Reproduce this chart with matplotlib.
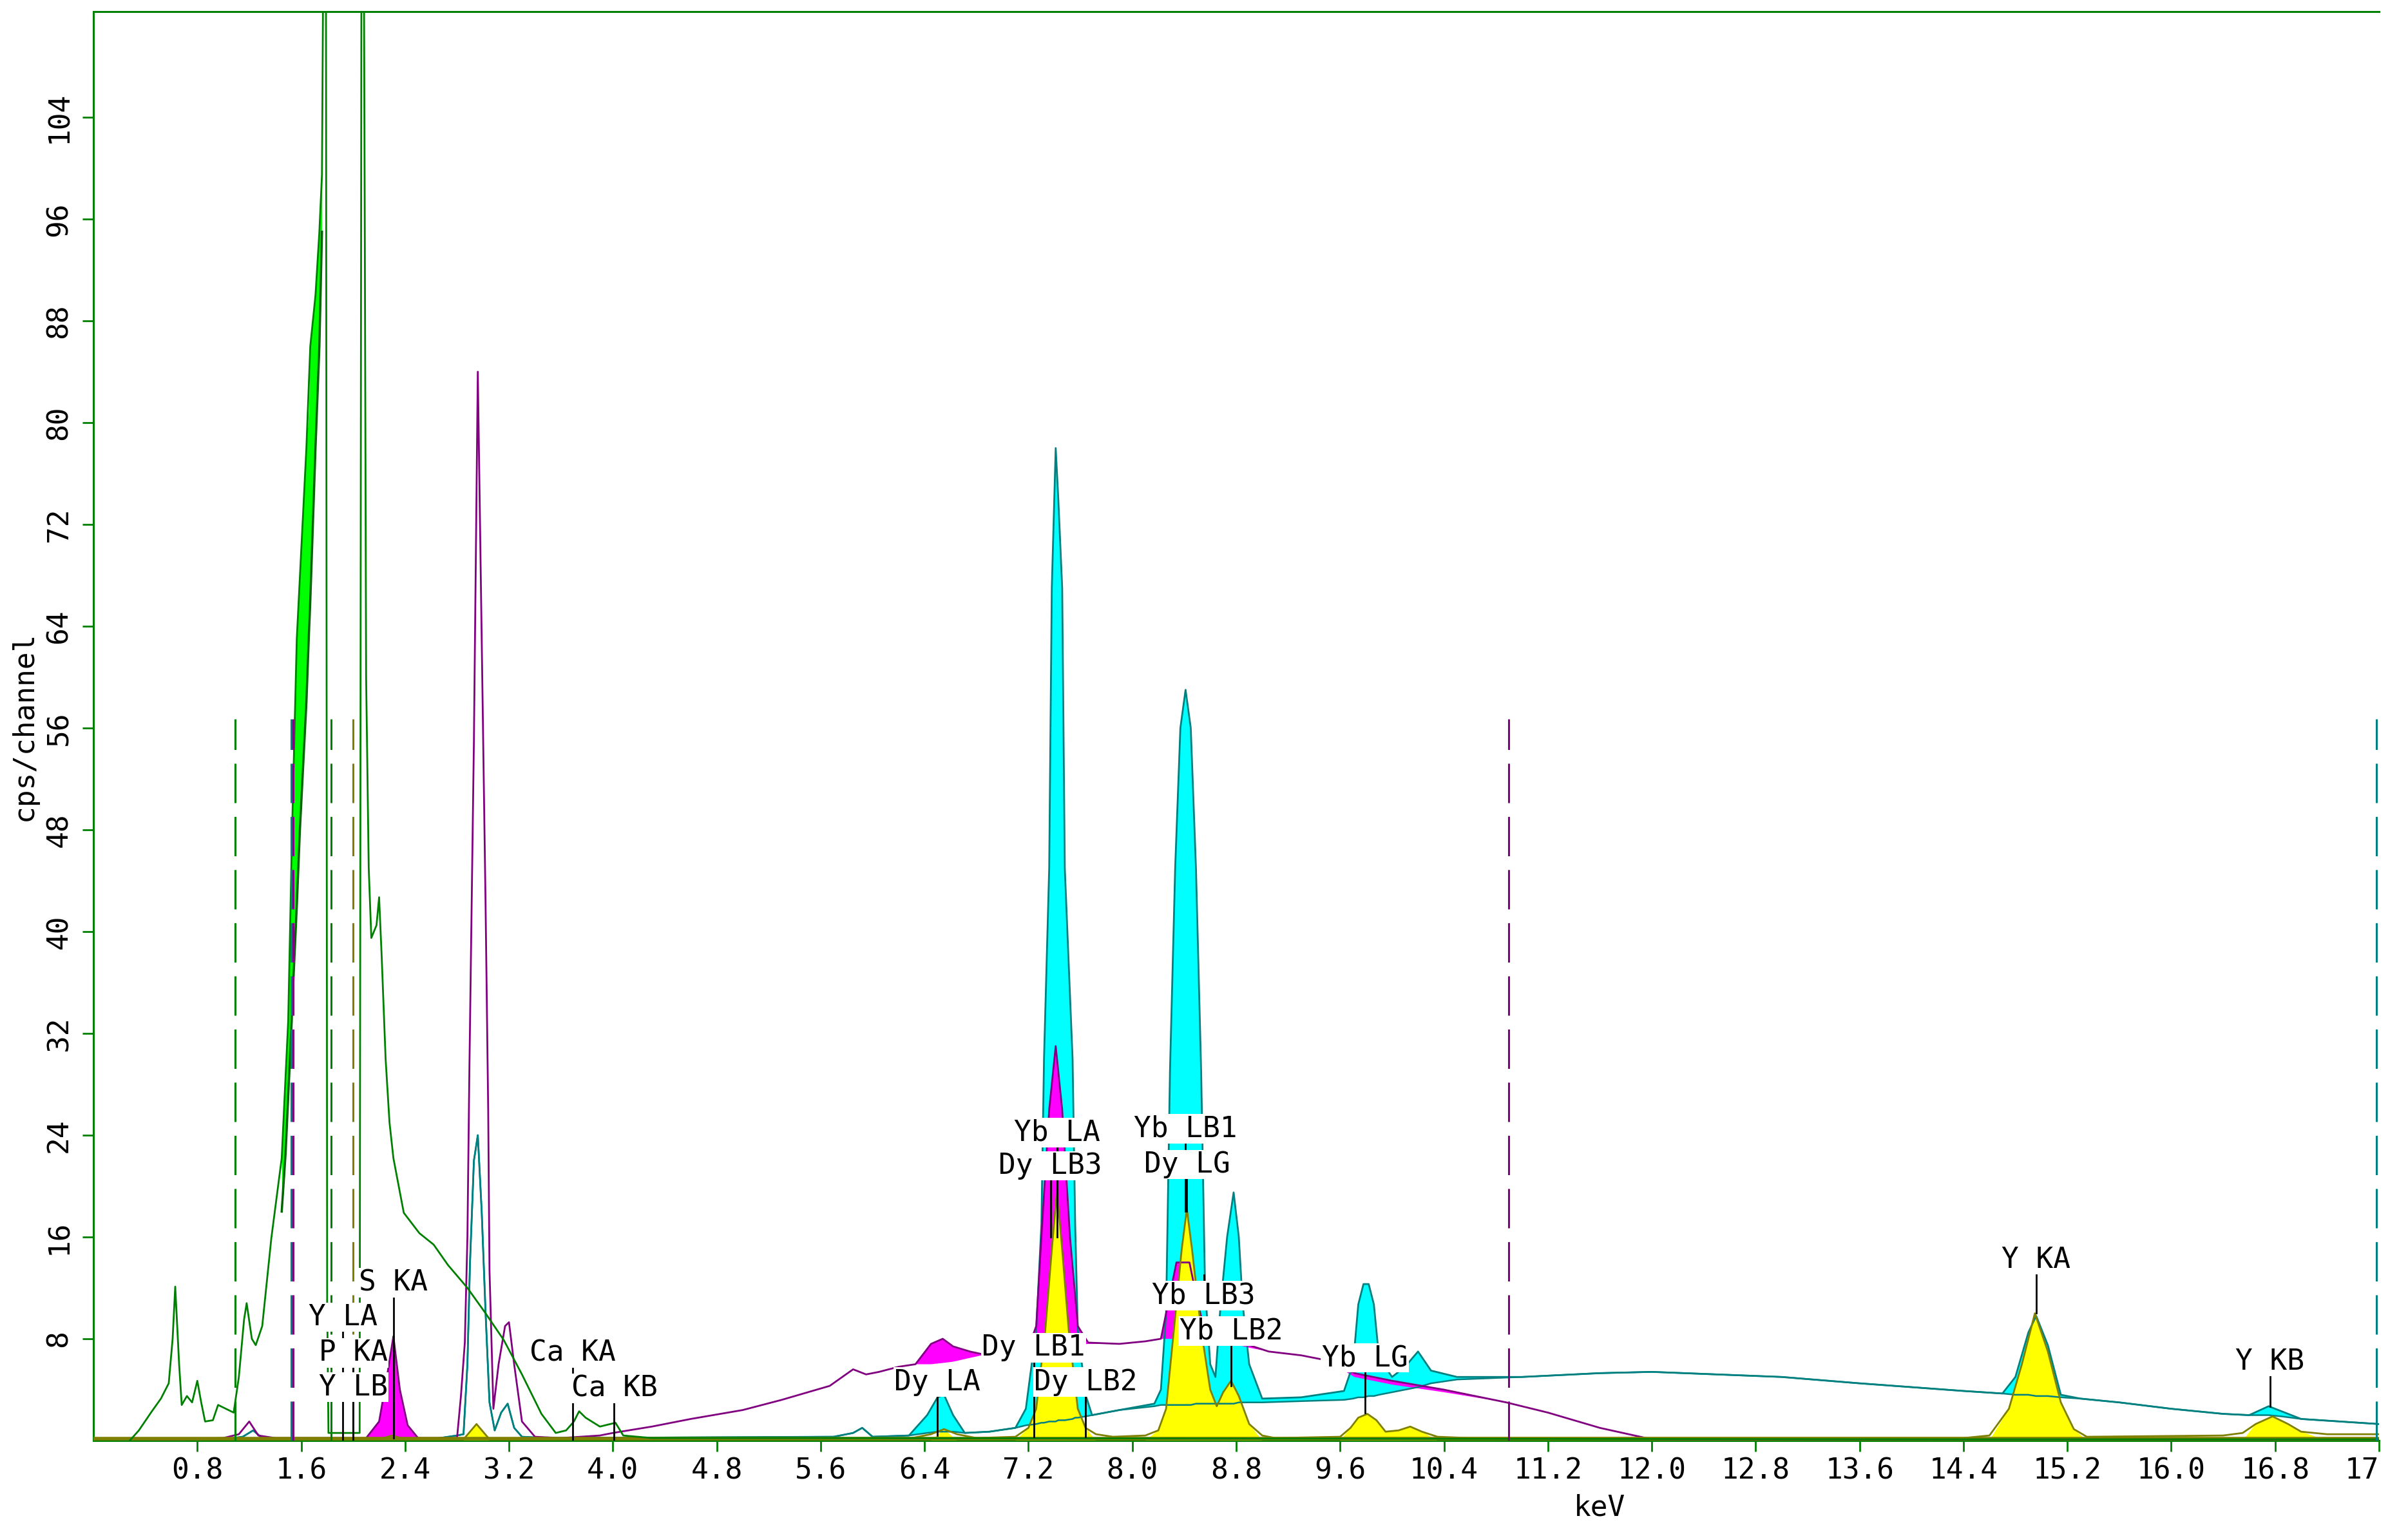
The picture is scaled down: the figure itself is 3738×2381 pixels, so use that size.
import matplotlib.pyplot as plt

# --- teal spectrum: energy (keV), counts (cps/channel), fitted background
teal_kev = [0.2, 1.0, 1.15, 1.23, 1.3, 1.5, 2.6, 2.8,
            2.85, 2.88, 2.9, 2.93, 2.96, 2.99, 3.02, 3.05, 3.09, 3.14, 3.19, 3.24, 3.3,
            3.5, 5.7, 5.85, 5.92, 6.0, 6.28, 6.42, 6.5, 6.55, 6.62, 6.71, 6.9,
            7.1, 7.18, 7.26, 7.30, 7.32, 7.36, 7.38, 7.41, 7.43, 7.46, 7.48, 7.54, 7.56, 7.58, 7.64, 7.69, 7.9,
            8.17, 8.22, 8.26, 8.29, 8.33, 8.37, 8.41, 8.45, 8.49, 8.53, 8.56, 8.6, 8.64,
            8.68, 8.73, 8.78, 8.82, 8.85, 8.9, 9.0, 9.3, 9.63,
            9.7, 9.74, 9.78, 9.82, 9.86, 9.9, 10.0, 10.1, 10.2, 10.3, 10.5,
            11.0, 11.6, 12.0, 12.5, 13.0, 13.6, 14.0, 14.4, 14.7,
            14.8, 14.9, 14.96, 15.05, 15.15, 15.3, 15.6, 16.0, 16.4, 16.6, 16.75, 16.85, 17.0, 17.3, 17.6]
teal_cps = [0, 0.1, 0.3, 0.8, 0.2, 0.1, 0.1, 0.4,
            0.5, 6, 14, 22, 24, 18, 10, 3, 0.8, 2.2, 2.9, 1.0, 0.3,
            0.2, 0.3, 0.6, 1.0, 0.3, 0.4, 2.0, 3.4, 3.6, 2.0, 0.6, 0.7,
            1.0, 2.5, 8.7, 17, 30, 45, 67, 78, 74, 67, 45, 30, 17, 8.7, 3.6, 2.0, 2.4,
            2.9, 4, 10, 29, 45, 56, 59, 56, 45, 29, 12, 6, 5,
            10.7, 16, 19.5, 16, 10.7, 6, 3.3, 3.4, 3.9,
            6, 10.7, 12.3, 12.3, 10.7, 6.5, 5, 5.8, 7.0, 5.5, 5.0,
            5.0, 5.3, 5.4, 5.2, 5.0, 4.5, 4.2, 3.9, 3.7,
            5, 8.5, 9.8, 7.5, 3.6, 3.3, 3.0, 2.5, 2.1, 2.0, 2.7, 2.3, 1.7, 1.5, 1.3]
teal_bg = [0, 0.1, 0.3, 0.8, 0.2, 0.1, 0.1, 0.4,
           0.5, 6, 14, 22, 24, 18, 10, 3, 0.8, 2.2, 2.9, 1.0, 0.3,
           0.2, 0.3, 0.6, 1.0, 0.3, 0.4, 0.6, 0.7, 0.7, 0.7, 0.6, 0.7,
           1.0, 1.2, 1.3, 1.4, 1.4, 1.5, 1.5, 1.5, 1.6, 1.6, 1.6, 1.7, 1.8, 1.8, 1.9, 2.0, 2.4,
           2.7, 2.8, 2.8, 2.8, 2.8, 2.8, 2.8, 2.8, 2.9, 2.9, 2.9, 2.9, 2.9,
           2.9, 2.9, 2.9, 3.0, 3.0, 3.0, 3.0, 3.1, 3.2,
           3.3, 3.4, 3.4, 3.5, 3.5, 3.6, 3.8, 4.0, 4.2, 4.5, 4.8,
           5.0, 5.3, 5.4, 5.2, 5.0, 4.5, 4.2, 3.9, 3.7,
           3.6, 3.6, 3.5, 3.5, 3.4, 3.3, 3.0, 2.5, 2.1, 2.0, 2.0, 1.9, 1.7, 1.5, 1.3]

# --- purple spectrum
purple_kev = [0.45, 1.0, 1.12, 1.2, 1.27, 1.4, 2.1,
              2.2, 2.26, 2.31, 2.36, 2.42, 2.5,
              2.8, 2.83, 2.86, 2.88, 2.895, 2.93, 2.96, 2.99, 3.02, 3.04, 3.05, 3.08, 3.12, 3.17, 3.2, 3.24, 3.3, 3.4,
              3.6, 3.9, 4.0, 4.3, 4.6, 5.0, 5.3, 5.67, 5.85, 5.95, 6.05, 6.2,
              6.33, 6.45, 6.54, 6.62, 6.75, 6.84, 7.0, 7.2,
              7.26, 7.30, 7.36, 7.41, 7.46, 7.52, 7.58, 7.66, 7.9, 8.1,
              8.22, 8.28, 8.34, 8.44, 8.5, 8.56, 8.7, 8.78, 8.9, 9.05, 9.3, 9.5,
              9.71, 10.0, 10.4, 10.88, 11.2, 11.6, 12.0, 12.5, 17.6]
purple_cps = [0, 0.2, 0.5, 1.5, 0.4, 0.2, 0.2,
              1.5, 5, 8.2, 4, 1.2, 0.2,
              0.2, 3.5, 7.7, 16, 29, 55, 84, 63, 42, 26, 13.4, 2.5, 6, 9, 9.3, 6, 1.5, 0.3,
              0.2, 0.4, 0.6, 1.1, 1.7, 2.4, 3.2, 4.3, 5.6, 5.2, 5.4, 5.8,
              6.0, 7.6, 8.0, 7.4, 7.0, 6.8, 6.9, 7.3,
              9, 16, 26, 31, 26, 16, 9, 7.7, 7.6, 7.8,
              8.0, 11, 14, 14, 11, 8.5, 8.0, 8.5, 7.5, 7.0, 6.7, 6.3,
              5.3, 4.7, 4.0, 3.0, 2.2, 1.0, 0.1, 0, 0]
purple_bg = [0, 0.2, 0.5, 1.5, 0.4, 0.2, 0.2,
             0.2, 0.2, 0.2, 0.2, 0.2, 0.2,
             0.2, 3.5, 7.7, 16, 29, 55, 84, 63, 42, 26, 13.4, 2.5, 6, 9, 9.3, 6, 1.5, 0.3,
             0.2, 0.4, 0.6, 1.1, 1.7, 2.4, 3.2, 4.3, 5.6, 5.2, 5.4, 5.8,
             6.0, 6.0, 6.1, 6.2, 6.5, 6.7, 6.9, 7.2,
             7.3, 7.3, 7.3, 7.4, 7.4, 7.5, 7.5, 7.6, 7.6, 7.8,
             8.0, 8.0, 8.0, 8.0, 8.0, 7.9, 7.7, 7.6, 7.3, 7.0, 6.7, 6.3,
             5.0, 4.4, 3.8, 3.0, 2.2, 1.0, 0.1, 0, 0]

# --- olive spectrum
olive_kev = [0.3, 2.2, 2.3, 2.4, 2.85, 2.95, 3.05, 3.2, 6.3, 6.45, 6.55, 6.65, 6.8,
             7.1, 7.2, 7.26, 7.33, 7.38, 7.42, 7.46, 7.51, 7.58, 7.64, 7.72, 7.85,
             8.1, 8.2, 8.26, 8.32, 8.38, 8.42, 8.46, 8.53, 8.6, 8.65, 8.7, 8.76, 8.82, 8.9, 9.0, 9.1,
             9.6, 9.68, 9.74, 9.81, 9.88, 9.95, 10.05, 10.14, 10.23, 10.35, 10.6,
             14.4, 14.6, 14.75, 14.85, 14.95, 15.05, 15.15, 15.25, 15.35,
             16.4, 16.55, 16.65, 16.78, 16.9, 17.0, 17.2, 17.6]
olive_cps = [0.1, 0.1, 0.4, 0.1, 0.1, 1.3, 0.1, 0.1, 0.2, 0.5, 0.9, 0.5, 0.2,
             0.3, 1.0, 2.5, 8.7, 15, 19.7, 15, 8.7, 2.5, 1.0, 0.5, 0.3,
             0.4, 0.8, 2.5, 8.7, 15, 18.2, 15, 8.7, 4, 2.7, 3.8, 4.7, 3.5, 1.3, 0.4, 0.2,
             0.3, 1.0, 1.8, 2.1, 1.6, 0.7, 0.8, 1.1, 0.7, 0.3, 0.2,
             0.2, 0.4, 2.5, 6, 10, 7, 3, 0.9, 0.3,
             0.4, 0.6, 1.3, 1.9, 1.3, 0.7, 0.5, 0.5]

# --- green spectrum
green_kev = [0.28, 0.35, 0.45, 0.52, 0.58, 0.61, 0.63, 0.66, 0.68, 0.72, 0.76, 0.8, 0.83, 0.86, 0.92, 0.96, 1.0, 1.08,
             1.12, 1.16, 1.18, 1.22, 1.25, 1.3, 1.37, 1.45, 1.50, 1.53, 1.566, 1.64, 1.67, 1.71, 1.74, 1.76,
             1.775, 1.79, 1.8, 1.81,
             2.05, 2.065, 2.08, 2.09, 2.1, 2.12, 2.14, 2.18, 2.2, 2.22, 2.25, 2.28, 2.31, 2.39, 2.51, 2.62,
             2.73, 2.88, 3.02, 3.16,
             3.3, 3.45, 3.56, 3.64, 3.7, 3.74, 3.79, 3.9, 4.02, 4.08, 4.3, 5.5, 14.4, 17.6]
green_cps = [0, 0.8, 2.3, 3.3, 4.5, 8, 12.1, 6, 2.8, 3.5, 3.0, 4.7, 3, 1.5, 1.6, 2.8, 2.6, 2.2,
             5, 9.5, 10.8, 8, 7.5, 9.0, 15.9, 22.2, 33, 48, 63, 78, 86, 90, 95, 99.5,
             125, 125, 10.8, 0.6,
             0.6, 125, 125, 94, 60, 45, 39.5, 40.5, 42.7, 38, 30, 25, 22.2, 17.9, 16.3, 15.4,
             13.8, 12, 10, 7.9,
             5.2, 2.1, 0.6, 0.8, 1.5, 2.3, 1.8, 1.1, 1.4, 0.4, 0.2, 0.2, 0.1, 0.1]

# bright green band on the rising edge of the big green peak
lime_kev = [1.45, 1.48, 1.50, 1.527, 1.53, 1.566, 1.59, 1.64, 1.658, 1.67, 1.71, 1.74, 1.76]
lime_top = [22.2, 28, 33, 45, 48, 63, 68, 78, 81, 86, 90, 95, 99.5]
lime_bot = [18, 22.6, 27, 33, 34, 42, 48, 58, 63, 66, 78, 86, 95]

# KLM marker (dashed) lines
marker_kev = [1.09, 1.525, 1.54, 1.83, 2.0, 10.9, 17.58]
marker_colors = ['#008000', '#008080', '#800080', '#008000', '#808000', '#800080', '#008080']
marker_height = 56.7

# element line labels
label_names = ['S KA', 'Y LA', 'P KA', 'Y LB', 'Ca KA', 'Ca KB', 'Dy LA', 'Dy LB1', 'Dy LB2',
               'Yb LA', 'Dy LB3', 'Yb LB1', 'Dy LG', 'Yb LB3', 'Yb LB2', 'Yb LG', 'Y KA', 'Y KB']
label_kev = [2.31, 1.92, 2.0, 2.0, 3.69, 4.01, 6.5, 7.24, 7.64,
             7.42, 7.37, 8.41, 8.42, 8.55, 8.76, 9.79, 14.96, 16.76]
label_cps = [12.4, 9.7, 6.9, 4.2, 6.9, 4.1, 4.6, 7.3, 4.6,
             24.2, 21.6, 24.5, 21.7, 11.4, 8.6, 6.5, 14.2, 6.2]
line_bottom = [0.2, 0, 0, 0, 0, 0, 0.4, 0.3, 0.3,
               16, 16, 18, 18, 13, 4.3, 2.2, 10, 2.7]

x_ticks = [0.8, 1.6, 2.4, 3.2, 4.0, 4.8, 5.6, 6.4, 7.2, 8.0, 8.8, 9.6, 10.4, 11.2, 12.0,
           12.8, 13.6, 14.4, 15.2, 16.0, 16.8, 17.6]
y_ticks = [8, 16, 24, 32, 40, 48, 56, 64, 72, 80, 88, 96, 104]


def fill_peaks(ax, kev, cps, bg, color, z):
    ax.fill_between(kev, bg, cps, where=[c > b for c, b in zip(cps, bg)],
                    interpolate=True, color=color, lw=0, zorder=z)


if __name__ == '__main__':
    plt.rcParams['font.family'] = 'DejaVu Sans Mono'
    fs = 32
    green = '#008000'

    fig = plt.figure(figsize=(37.38, 23.81), dpi=100)
    ax = fig.add_axes([145 / 3738, 1 - 2236 / 2381, (3693 - 145) / 3738, (2236 - 18) / 2381])

    # peak fills
    fill_peaks(ax, teal_kev, teal_cps, teal_bg, '#00FFFF', 1)
    fill_peaks(ax, purple_kev, purple_cps, purple_bg, '#FF00FF', 2)
    ax.fill_between(olive_kev, 0, olive_cps, where=[c > 0.6 for c in olive_cps],
                    interpolate=True, color='#FFFF00', lw=0, zorder=3)
    ax.fill_between(lime_kev, lime_bot, lime_top, color='#00FF00', lw=0, zorder=3)

    # spectra
    ax.plot(teal_kev, teal_bg, color='#008080', lw=1.8, zorder=4)
    ax.plot(teal_kev, teal_cps, color='#008080', lw=2, zorder=4)
    ax.plot(purple_kev, purple_cps, color='#800080', lw=2, zorder=5)
    ax.plot(olive_kev, olive_cps, color='#808000', lw=2, zorder=6)
    ax.plot(green_kev, green_cps, color=green, lw=2, zorder=7)
    ax.plot(lime_kev, lime_bot, color='#006400', lw=2.5, zorder=7)
    ax.axhline(0.15, color='#808000', lw=4, zorder=6)

    # KLM markers
    for xm, cm in zip(marker_kev, marker_colors):
        ax.plot([xm, xm], [0, marker_height], color=cm, lw=2.2,
                linestyle=(0, (20, 7)), zorder=8)

    # element labels
    for name, xk, yl, yb in zip(label_names, label_kev, label_cps, line_bottom):
        ax.plot([xk, xk], [yb, yl], color='black', lw=2, zorder=9)
        ax.text(xk, yl, name, fontsize=fs, ha='center', va='center', zorder=10,
                bbox=dict(facecolor='white', edgecolor='none', pad=1))

    ax.set_xlim(0, 17.6)
    ax.set_ylim(0, 112.3)
    for side in ['left', 'top', 'bottom']:
        ax.spines[side].set_color(green)
        ax.spines[side].set_linewidth(2.2)
    ax.spines['right'].set_visible(False)

    ax.set_xticks(x_ticks)
    ax.set_xticklabels([f'{t:.1f}' for t in x_ticks[:-1]] + ['17'], fontsize=fs)
    ax.get_xticklabels()[-1].set_ha('right')
    ax.set_yticks(y_ticks)
    ax.set_yticklabels([str(t) for t in y_ticks], fontsize=fs, rotation=90, va='center')
    ax.tick_params(axis='both', direction='out', color=green, length=12, width=2)
    ax.tick_params(axis='x', pad=6)
    ax.tick_params(axis='y', pad=11)

    ax.set_ylabel('cps/channel', fontsize=fs, labelpad=8)
    ax.set_xlabel('keV', fontsize=fs)
    ax.xaxis.set_label_coords(0.659, -0.037)

    fig.savefig('out.png', dpi=100)
